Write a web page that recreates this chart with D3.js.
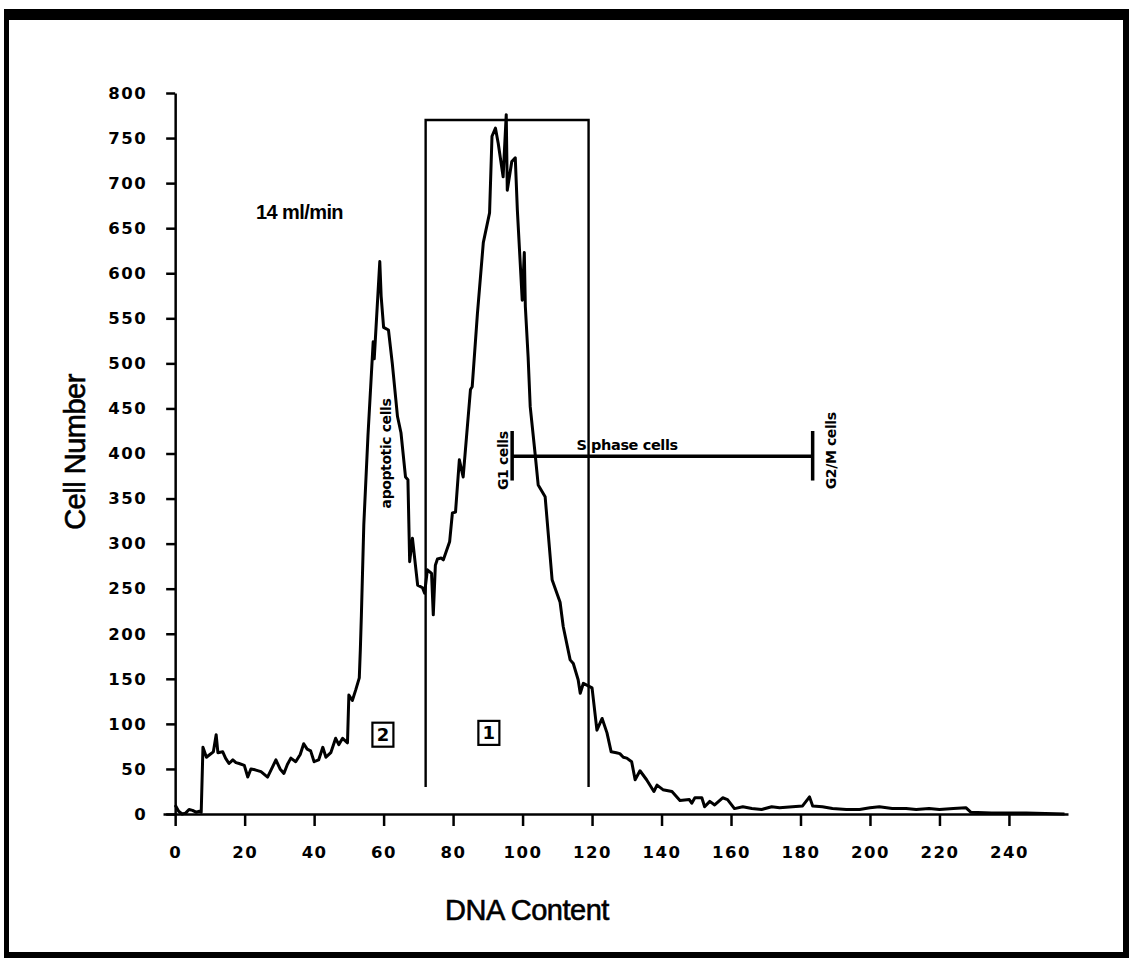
<!DOCTYPE html>
<html>
<head>
<meta charset="utf-8">
<script src="https://cdn.jsdelivr.net/npm/d3@7"></script>
<style>
  body { margin: 0; background: #fff; }
  svg { display: block; }
</style>
</head>
<body>
<div id="chart"></div>
<script>
// histogram: DNA content channel -> cell number
var dnaContent = [0, 1, 2, 3, 4, 5, 6, 7, 7.5, 8, 9, 10, 11, 11.8, 12.3, 13.7, 14.5, 15.5, 16.6, 17.5,
  18.4, 19.9, 20.9, 21.8, 23, 24.7, 26.6, 28, 29, 30.2, 31.3, 32.3, 33.3, 34.7, 36, 37, 38, 39, 40, 41.3,
  42.5, 43.4, 44.8, 46.2, 47.1, 48.2, 49.6, 50, 51, 52, 53, 53.3, 53.6, 54.3, 55.5, 57, 57.3, 57.6, 58.9, 59.3,
  60, 61.4, 62.5, 64, 65, 66.3, 67, 67.5, 68.3, 69.8, 71.2, 71.8, 72.6, 73.8, 74.3, 74.9, 75.5, 76.6, 77.2, 79,
  79.8, 80.7, 81.8, 82.9, 85, 85.5, 87, 88.7, 90.5, 91.2, 92.2, 93, 94.4, 95.3, 95.6, 96.9, 97.9, 98.5, 99.9, 100.5,
  100.8, 101.6, 102.2, 103.6, 104.5, 106.5, 108.5, 110.8, 111.7, 113.7, 114.6, 116, 116.6, 117.5, 120, 121.4, 122.9, 124.3, 125.5, 127,
  128, 129, 130, 131.4, 132.4, 133.8, 135.7, 137.8, 138.7, 140.4, 143, 145.3, 148, 148.7, 149.6, 151.6, 152.4, 153.9, 155.3, 157.6,
  159, 161, 163.4, 166, 168.8, 171.7, 174, 177.7, 180.6, 182.6, 183.5, 186.3, 189.2, 193.2, 197, 200, 202.7, 206.4, 210.4, 213.3,
  217, 220, 224, 227.6, 229, 235, 245, 256];
var cellNumber = [10, 3, 0, 1, 5, 4, 2, 3, 2, 74, 63, 66, 69, 88, 68, 69, 62, 56, 60, 57,
  56, 54, 41, 50, 49, 47, 41, 52, 60, 50, 45, 55, 62, 58, 66, 78, 72, 70, 58, 60,
  74, 63, 68, 84, 77, 84, 79, 132, 126, 138, 151, 182, 220, 321, 420, 524, 505, 525, 613, 574,
  540, 537, 500, 441, 423, 374, 371, 280, 306, 254, 251, 245, 271, 267, 221, 276, 283, 284, 282, 302,
  334, 335, 393, 374, 471, 474, 555, 634, 667, 752, 761, 744, 707, 776, 692, 724, 728, 670, 570, 623,
  563, 507, 452, 400, 365, 352, 260, 235, 208, 171, 167, 149, 134, 145, 140, 93, 106, 90, 69, 68,
  67, 63, 62, 58, 38, 48, 38, 25, 32, 27, 25, 15, 16, 12, 18, 18, 8, 14, 10, 18,
  16, 6, 8, 6, 5, 8, 7, 8, 9, 19, 9, 8, 6, 5, 5, 7, 8, 6, 6, 5,
  6, 5, 6, 7, 2, 1, 1, 0];

var xTicks = [0, 20, 40, 60, 80, 100, 120, 140, 160, 180, 200, 220, 240];
var yTicks = [0, 50, 100, 150, 200, 250, 300, 350, 400, 450, 500, 550, 600, 650, 700, 750, 800];

// gate box around region 1: [left, right, bottom, top]
var gateBox = [72.1, 119, 30, 770];
// S phase marker: [from, to, level, tickLow, tickHigh]
var phaseBar = [97, 183.5, 397, 370, 425];

var W = 1129, H = 958;
var svg = d3.select("#chart").append("svg")
  .attr("width", W).attr("height", H);

svg.append("rect").attr("width", W).attr("height", H).attr("fill", "#fff");

// scanned frame
svg.append("rect").attr("x", 4).attr("y", 9).attr("width", W - 4).attr("height", 11).attr("fill", "#000");
svg.append("rect").attr("x", 4).attr("y", 9).attr("width", 5).attr("height", H - 9).attr("fill", "#000");
svg.append("rect").attr("x", 1123).attr("y", 9).attr("width", 6).attr("height", H - 9).attr("fill", "#000");
svg.append("rect").attr("x", 4).attr("y", 952).attr("width", W - 4).attr("height", 6).attr("fill", "#000");

var x = d3.scaleLinear().domain([-3.5, 257]).range([163, 1068]);
var y = d3.scaleLinear().domain([0, 800]).range([814, 93]);

var tickFont = "'DejaVu Sans', sans-serif";

// x axis
var gx = svg.append("g")
  .attr("transform", "translate(0," + y(0) + ")")
  .call(d3.axisBottom(x).tickValues(xTicks).tickSize(12).tickSizeOuter(0).tickPadding(20));
gx.select(".domain").attr("stroke-width", 2.5);
gx.selectAll(".tick line").attr("stroke-width", 2.5);
gx.selectAll("text")
  .attr("font-family", tickFont).attr("font-weight", "bold").attr("font-size", 16.5)
  .attr("letter-spacing", 1.5).attr("fill", "#000");

// y axis
var gy = svg.append("g")
  .attr("transform", "translate(" + x(0) + ",0)")
  .call(d3.axisLeft(y).tickValues(yTicks).tickSize(9).tickSizeOuter(0).tickPadding(19));
gy.select(".domain").attr("stroke-width", 2.5);
gy.selectAll(".tick line").attr("stroke-width", 2.5);
gy.selectAll("text")
  .attr("font-family", tickFont).attr("font-weight", "bold").attr("font-size", 16.5)
  .attr("letter-spacing", 1.5).attr("fill", "#000");

// axis titles
svg.append("text")
  .attr("x", 527).attr("y", 920)
  .attr("text-anchor", "middle")
  .attr("font-family", "'Liberation Sans', Arial, sans-serif")
  .attr("font-size", 29).attr("letter-spacing", -0.5)
  .attr("stroke", "#000").attr("stroke-width", 0.6)
  .text("DNA Content");

svg.append("text")
  .attr("transform", "translate(85,452) rotate(-90)")
  .attr("text-anchor", "middle")
  .attr("font-family", "'Liberation Sans', Arial, sans-serif")
  .attr("font-size", 29).attr("letter-spacing", -0.5)
  .attr("stroke", "#000").attr("stroke-width", 0.6)
  .text("Cell Number");

// histogram
var pts = dnaContent.map(function(d, i) { return [d, cellNumber[i]]; });
var line = d3.line()
  .x(function(d) { return x(d[0]); })
  .y(function(d) { return y(d[1]); });

svg.append("path")
  .datum(pts)
  .attr("d", line)
  .attr("fill", "none")
  .attr("stroke", "#000")
  .attr("stroke-width", 3)
  .attr("stroke-linejoin", "round");

// gate box (open at the bottom)
svg.append("path")
  .attr("d", "M" + x(gateBox[0]) + "," + y(gateBox[2]) +
    "L" + x(gateBox[0]) + "," + y(gateBox[3]) +
    "L" + x(gateBox[1]) + "," + y(gateBox[3]) +
    "L" + x(gateBox[1]) + "," + y(gateBox[2]))
  .attr("fill", "none").attr("stroke", "#000").attr("stroke-width", 2.4);

// S phase bar
svg.append("line")
  .attr("x1", x(phaseBar[0])).attr("x2", x(phaseBar[1]))
  .attr("y1", y(phaseBar[2])).attr("y2", y(phaseBar[2]))
  .attr("stroke", "#000").attr("stroke-width", 3.5);
[phaseBar[0], phaseBar[1]].forEach(function(v) {
  svg.append("line")
    .attr("x1", x(v)).attr("x2", x(v))
    .attr("y1", y(phaseBar[3])).attr("y2", y(phaseBar[4]))
    .attr("stroke", "#000").attr("stroke-width", 3.5);
});

var noteFont = "'DejaVu Sans', sans-serif";

svg.append("text")
  .attr("x", x(115.5)).attr("y", y(404))
  .attr("font-family", noteFont).attr("font-weight", "bold")
  .attr("font-size", 14.5).attr("letter-spacing", -0.4)
  .text("S phase cells");

function vlabel(label, cx, cy) {
  svg.append("text")
    .attr("transform", "translate(" + x(cx) + "," + y(cy) + ") rotate(-90)")
    .attr("text-anchor", "middle").attr("dy", "0.36em")
    .attr("font-family", noteFont).attr("font-weight", "bold")
    .attr("font-size", 14).attr("letter-spacing", -0.4)
    .text(label);
}
vlabel("G1 cells", 94.3, 392);
vlabel("G2/M cells", 188.8, 403);
vlabel("apoptotic cells", 60.6, 400);

svg.append("text")
  .attr("x", x(23.3)).attr("y", y(660))
  .attr("font-family", "'Liberation Sans', Arial, sans-serif").attr("font-weight", "bold")
  .attr("font-size", 20).attr("letter-spacing", -0.6)
  .text("14 ml/min");

// boxed region numbers
function boxed(label, cx, cy) {
  var g = svg.append("g").attr("transform", "translate(" + x(cx) + "," + y(cy) + ")");
  g.append("rect").attr("x", -10.5).attr("y", -12).attr("width", 21).attr("height", 24)
    .attr("fill", "none").attr("stroke", "#000").attr("stroke-width", 2.2);
  g.append("text").attr("text-anchor", "middle").attr("dy", "0.36em")
    .attr("font-family", noteFont).attr("font-weight", "bold").attr("font-size", 18)
    .text(label);
}
boxed("2", 59.8, 88);
boxed("1", 90.3, 90);
</script>
</body>
</html>
